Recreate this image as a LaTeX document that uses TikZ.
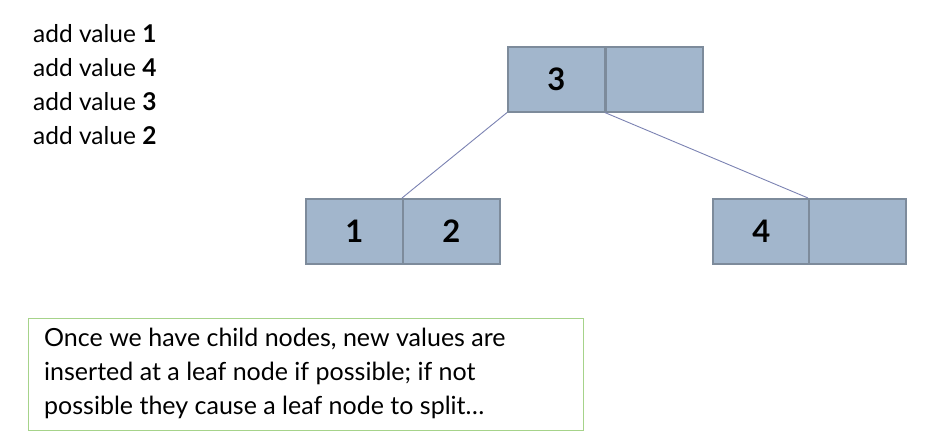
\documentclass[tikz,border=0pt]{standalone}
\usepackage{fontspec}
\setmainfont{Lato}
\definecolor{cellfill}{HTML}{A2B6CC}
\definecolor{celldraw}{HTML}{7D8B9B}
\definecolor{linkcol}{HTML}{7B82B2}
\definecolor{boxgreen}{HTML}{A6D38A}
\begin{document}
\begin{tikzpicture}[x=1pt,y=-1pt,
  cell/.style={draw=celldraw,line width=1.6pt,fill=cellfill,minimum width=97pt,minimum height=65pt,inner sep=0pt,anchor=north west,font=\fontsize{31}{36}\selectfont\bfseries},
  link/.style={draw=linkcol,line width=0.9pt},
  addline/.style={anchor=west,font=\fontsize{24.5}{29}\selectfont,inner sep=0pt},
  note/.style={draw=boxgreen,line width=1pt,anchor=north west,minimum width=555pt,minimum height=112pt,inner sep=0pt}]
\useasboundingbox (0,0) rectangle (931,446);
% left list
\node[addline] (a1) at (33,34) {add value \textbf{1}};
\node[addline] (a2) at (33,68) {add value \textbf{4}};
\node[addline] (a3) at (33,102) {add value \textbf{3}};
\node[addline] (a4) at (33,136) {add value \textbf{2}};
% root
\node[cell] (r1) at (507,46) {3};
\node[cell] (r2) at (605,46) {};
% left leaf
\node[cell] (l1) at (305,198) {1};
\node[cell] (l2) at (402,198) {2};
% right leaf
\node[cell] (q1) at (712,198) {4};
\node[cell] (q2) at (808,198) {};
% links
\draw[link] (r1.south west) -- (l2.north west);
\draw[link] (r2.south west) -- (q2.north west);
% note
\node[note] (nb) at (28,318) {};
\node[anchor=north west,align=left,inner sep=0pt,font=\fontsize{25}{34}\selectfont] (nt) at (44,328)
  {Once we have child nodes, new values are\\inserted at a leaf node if possible; if not\\possible they cause a leaf node to split\dots};
\end{tikzpicture}
\end{document}
